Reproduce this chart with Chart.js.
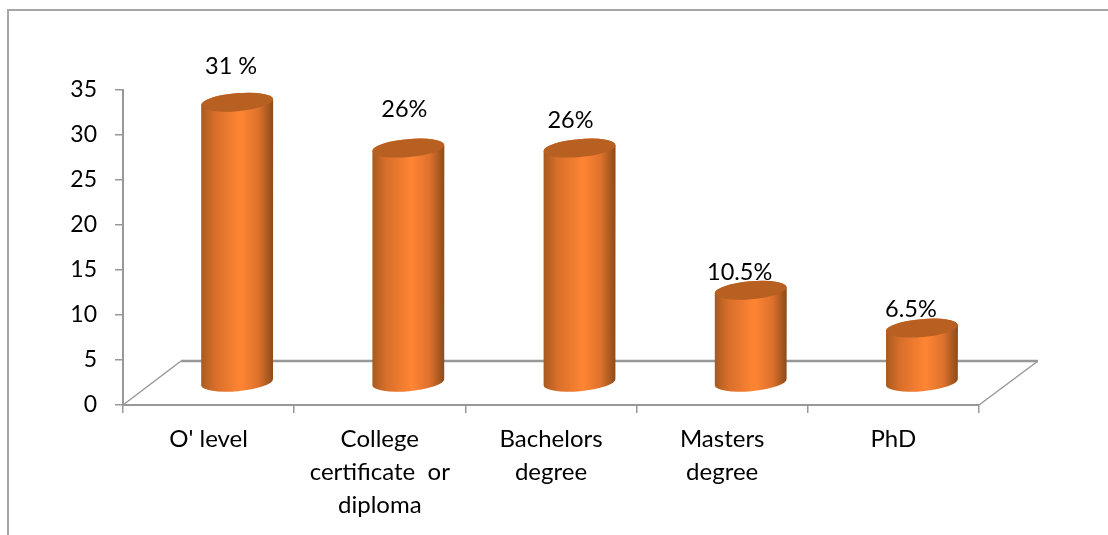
<!DOCTYPE html>
<html>
<head>
<meta charset="utf-8">
<style>
  html, body { margin: 0; padding: 0; background: #fff; overflow: hidden; }
  #wrap { position: relative; width: 1108px; height: 535px; }
  #frame { position: absolute; left: 7px; top: 9px; right: 0; bottom: 0; border-left: 2px solid #a6a6a6; border-top: 2px solid #a6a6a6; }
  canvas { position: absolute; left: 0; top: 0; }
</style>
<script src="https://cdn.jsdelivr.net/npm/chart.js@4"></script>
</head>
<body>
<div id="wrap">
  <div id="frame"></div>
  <canvas id="educationChart" width="1108" height="535"></canvas>
</div>
<script>
const categories = ["O' level", ["College", "certificate  or", "diploma"], ["Bachelors", "degree"], ["Masters", "degree"], "PhD"];
const values = [31.2, 26.1, 26.1, 10.3, 6.1];
const valueLabels = ["31 %", "26%", "26%", "10.5%", "6.5%"];
const yTicks = [0, 5, 10, 15, 20, 25, 30, 35];

// where each label was dragged to, relative to the top of its bar
const labelShiftX = [-6, -4, -9, -11, -11];
const labelShiftY = [-36, -39, -28, -18, -19];

const axisColor = '#989898';
const fontFamily = 'Lato, Carlito, sans-serif';
const depthX = 28.5;
const depthY = -22;
const tilt = -5 * Math.PI / 180;

// 3d floor behind the bars
const floorPlugin = {
  id: 'floor',
  beforeDatasetsDraw(chart) {
    const ctx = chart.ctx;
    const xs = chart.scales.x;
    const ys = chart.scales.y;
    const y0 = ys.getPixelForValue(0);
    const left = xs.left;
    const right = xs.right;
    ctx.save();
    ctx.strokeStyle = axisColor;
    ctx.lineWidth = 1.5;
    ctx.beginPath();
    ctx.moveTo(left, y0);
    ctx.lineTo(left + 58, y0 + depthY * 2);
    ctx.stroke();
    ctx.beginPath();
    ctx.moveTo(right + 59, y0 + depthY * 2);
    ctx.lineTo(right, y0);
    ctx.stroke();
    ctx.lineWidth = 2.5;
    ctx.beginPath();
    ctx.moveTo(left + 58, y0 + depthY * 2);
    ctx.lineTo(right + 59, y0 + depthY * 2);
    ctx.stroke();
    ctx.restore();
  }
};

// cylinders instead of the flat bars
const cylinderPlugin = {
  id: 'cylinder',
  beforeDatasetDraw(chart, args) {
    const ctx = chart.ctx;
    chart.getDatasetMeta(args.index).data.forEach(bar => {
      const cx = bar.x + depthX;
      const top = bar.y + depthY;
      const bottom = bar.base + depthY;
      const r = bar.width / 2;
      const ry = 9;
      const dy = r * Math.sin(tilt);

      const grad = ctx.createLinearGradient(cx - r, 0, cx + r, 0);
      grad.addColorStop(0, '#a85a1f');
      grad.addColorStop(0.2, '#d96f2b');
      grad.addColorStop(0.55, '#ff8533');
      grad.addColorStop(0.8, '#dd712c');
      grad.addColorStop(1, '#8c4b19');

      ctx.save();
      ctx.beginPath();
      ctx.ellipse(cx, bottom, r, ry, tilt, Math.PI, 0, true);
      ctx.lineTo(cx + r, top + dy);
      ctx.ellipse(cx, top, r, ry, tilt, 0, Math.PI, true);
      ctx.closePath();
      ctx.fillStyle = grad;
      ctx.fill();

      ctx.beginPath();
      ctx.ellipse(cx, top, r, ry, tilt, 0, Math.PI * 2);
      ctx.fillStyle = '#b85f22';
      ctx.fill();
      ctx.restore();
    });
    return false;
  },
  afterDatasetsDraw(chart) {
    const ctx = chart.ctx;
    ctx.save();
    ctx.fillStyle = '#000';
    ctx.font = '23.5px ' + fontFamily;
    ctx.textAlign = 'center';
    ctx.textBaseline = 'middle';
    chart.getDatasetMeta(0).data.forEach((bar, i) => {
      ctx.fillText(valueLabels[i], bar.x + depthX + labelShiftX[i], bar.y + depthY + labelShiftY[i]);
    });
    ctx.restore();
  }
};

const ctx = document.getElementById('educationChart').getContext('2d');
new Chart(ctx, {
  type: 'bar',
  data: {
    labels: categories,
    datasets: [{
      label: 'Education',
      data: values,
      backgroundColor: '#ff8533',
      barPercentage: 0.421,
      categoryPercentage: 1
    }]
  },
  plugins: [floorPlugin, cylinderPlugin],
  options: {
    responsive: false,
    animation: false,
    layout: { padding: { left: 0, right: 129, top: 90, bottom: 0 } },
    plugins: { legend: { display: false }, tooltip: { enabled: false } },
    scales: {
      x: {
        afterFit: scale => { scale.height = 130; },
        grid: { drawOnChartArea: false, color: axisColor, tickLength: 8, lineWidth: 1.5 },
        border: { color: axisColor, width: 2 },
        ticks: {
          color: '#000',
          padding: 10,
          maxRotation: 0,
          autoSkip: false,
          font: { family: fontFamily, size: 24, lineHeight: 1.375 }
        }
      },
      y: {
        min: 0,
        max: 35,
        afterFit: scale => { scale.width = 123; },
        afterBuildTicks: scale => { scale.ticks = yTicks.map(v => ({ value: v })); },
        grid: { drawOnChartArea: false, color: axisColor, tickLength: 8, lineWidth: 1.5 },
        border: { color: axisColor, width: 2 },
        ticks: {
          color: '#000',
          padding: 18,
          font: { family: fontFamily, size: 23 }
        }
      }
    }
  }
});
</script>
</body>
</html>
